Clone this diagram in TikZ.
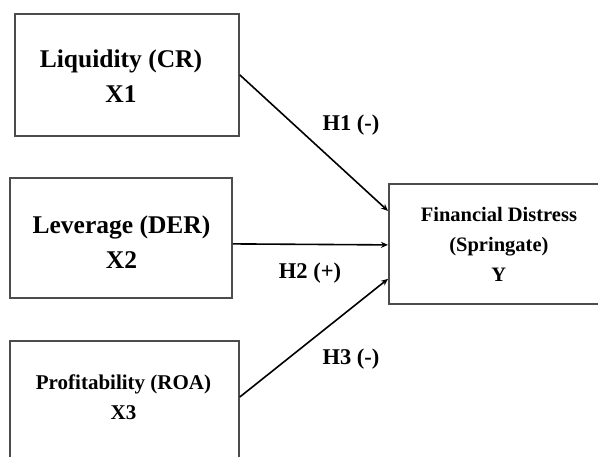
\documentclass[tikz,border=0pt]{standalone}
\usepackage{fontspec}
\setmainfont{Liberation Serif}
\usetikzlibrary{arrows.meta}
\begin{document}
\begin{tikzpicture}[x=1pt,y=1pt,
  box/.style={draw=black!70, line width=1.8pt, inner sep=0pt},
  big/.style={font=\fontsize{25.5}{35}\selectfont\bfseries, align=center},
  mid/.style={font=\fontsize{21}{30}\selectfont\bfseries, align=center},
  hyp/.style={font=\fontsize{22.5}{26}\selectfont\bfseries},
  conn/.style={line width=1.6pt, -{Stealth[length=7pt,width=6pt]}}]
\useasboundingbox (0,0) rectangle (598,-457);
\clip (0,0) rectangle (598,-457);
% boxes
\node[box, minimum width=224, minimum height=122, anchor=north west] (x1) at (14,-13) {};
\node[big] (x1t) at (121,-76) {Liquidity (CR)\\X1};
\node[box, minimum width=222, minimum height=120, anchor=north west] (x2) at (9,-177) {};
\node[big] (x2t) at (121.5,-242) {Leverage (DER)\\X2};
\node[box, minimum width=229, minimum height=140, anchor=north west] (x3) at (9,-340) {};
\node[mid] (x3t) at (123.5,-397) {Profitability (ROA)\\X3};
\node[box, minimum width=220, minimum height=120, anchor=north west, font=\fontsize{20.5}{30}\selectfont\bfseries, align=center] (y) at (388,-183) {Financial Distress\\(Springate)\\Y};
% connectors
\draw[conn] (x1.east) -- ([yshift=33]y.west);
\draw[conn] ([yshift=-6]x2.east) -- ([yshift=-1]y.west);
\draw[conn] (x3.east |- x3t.center) -- ([yshift=-35]y.west);
% labels
\node[hyp] (h1) at (351,-125) {H1 (-)};
\node[hyp] (h2) at (310,-273) {H2 (+)};
\node[hyp] (h3) at (351,-359) {H3 (-)};
\end{tikzpicture}
\end{document}
